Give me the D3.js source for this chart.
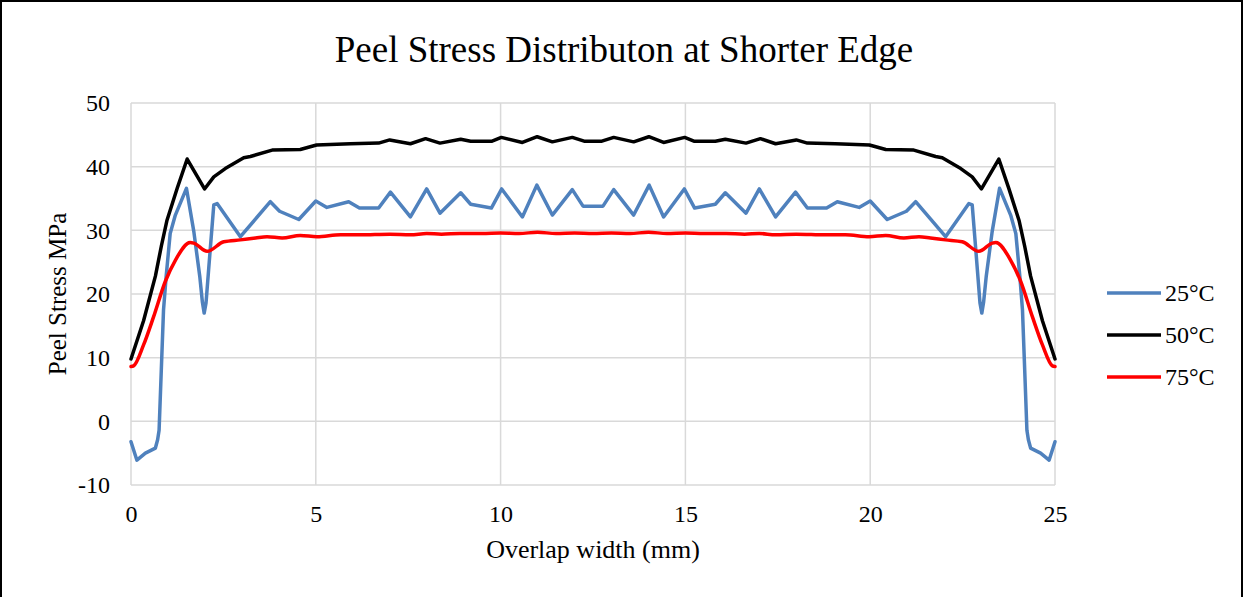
<!DOCTYPE html>
<html>
<head>
<meta charset="utf-8">
<script src="https://cdn.jsdelivr.net/npm/d3@7"></script>
<style>
  body { margin: 0; background: #fff; }
  svg { display: block; font-family: "Liberation Serif", "Times New Roman", serif; }
</style>
</head>
<body>
<div id="chart"></div>
<script>
// peel stress along overlap width
const x25 = [0, 0.16, 0.39, 0.66, 0.72, 0.76, 0.82, 0.88, 0.95, 1.06, 1.2, 1.5, 1.7, 1.86, 1.93, 1.98, 2.03, 2.1, 2.24, 2.33, 2.96, 3.77, 4.02, 4.54, 5.0, 5.3, 5.89, 6.18, 6.7, 7.02, 7.56, 8.0, 8.36, 8.92, 9.19, 9.75, 10.03, 10.59, 10.98, 11.4, 11.94, 12.23,
  12.77, 13.06, 13.6, 14.02, 14.41, 14.97, 15.25, 15.81, 16.08, 16.64, 17.0, 17.44, 17.98, 18.3, 18.82, 19.11, 19.7, 20.0, 20.46, 20.98, 21.23, 22.04, 22.67, 22.76, 22.9, 22.97, 23.02, 23.07, 23.14, 23.3, 23.5, 23.8, 23.94, 24.05, 24.12, 24.18, 24.24, 24.28, 24.34, 24.61, 24.84, 25]
const s25 = [-3.2, -6.1, -5.0, -4.2, -2.9, -1.4, 8.1, 17.5, 22.7, 29.5, 32.4, 36.6, 29.8, 22.8, 18.8, 17.0, 18.6, 23.8, 34.0, 34.2, 29.0, 34.5, 33.0, 31.7, 34.6, 33.6, 34.5, 33.5, 33.5, 36.0, 32.1, 36.5, 32.7, 35.9, 34.1, 33.5, 36.5, 32.1, 37.1, 32.4, 36.4, 33.8,
  33.8, 36.4, 32.4, 37.1, 32.1, 36.5, 33.5, 34.1, 35.9, 32.7, 36.5, 32.1, 36.0, 33.5, 33.5, 34.5, 33.6, 34.6, 31.7, 33.0, 34.5, 29.0, 34.2, 34.0, 23.8, 18.6, 17.0, 18.8, 22.8, 29.8, 36.6, 32.4, 29.5, 22.7, 17.5, 8.1, -1.4, -2.9, -4.2, -5.0, -6.1, -3.2]

const x50 = [0, 0.34, 0.66, 0.82, 0.97, 1.25, 1.52, 1.99, 2.24, 2.55, 3.05, 3.23, 3.82, 4.58, 5.02, 5.94, 6.7, 7.0, 7.56, 7.97, 8.36, 8.92, 9.19, 9.77, 10.02, 10.59, 10.99, 11.4, 11.94, 12.26,
  12.74, 13.06, 13.6, 14.01, 14.41, 14.98, 15.23, 15.81, 16.08, 16.64, 17.03, 17.44, 18.0, 18.3, 19.06, 19.98, 20.42, 21.18, 21.77, 21.95, 22.45, 22.76, 23.01, 23.48, 23.75, 24.03, 24.18, 24.34, 24.66, 25]
const s50 = [9.8, 15.8, 22.8, 27.5, 31.5, 36.6, 41.2, 36.5, 38.4, 39.7, 41.4, 41.6, 42.6, 42.7, 43.4, 43.6, 43.7, 44.2, 43.6, 44.4, 43.7, 44.3, 44.0, 44.0, 44.6, 43.8, 44.7, 43.9, 44.6, 44.0,
  44.0, 44.6, 43.9, 44.7, 43.8, 44.6, 44.0, 44.0, 44.3, 43.7, 44.4, 43.6, 44.2, 43.7, 43.6, 43.4, 42.7, 42.6, 41.6, 41.4, 39.7, 38.4, 36.5, 41.2, 36.6, 31.5, 27.5, 22.8, 15.8, 9.8]

const x75 = [0, 0.07, 0.34, 0.61, 0.93, 1.2, 1.6, 1.7, 2.06, 2.51, 2.96, 3.37, 3.68, 4.09, 4.58, 5.03, 5.67, 6.2, 7.0, 7.56, 8.0, 8.4, 8.9, 9.5, 10.0, 10.5, 11.0, 11.5, 12.0, 12.5,
  13.0, 13.5, 14.0, 14.5, 15.0, 15.5, 16.1, 16.6, 17.0, 17.44, 18.0, 18.8, 19.33, 19.97, 20.42, 20.91, 21.32, 21.63, 22.04, 22.49, 22.94, 23.3, 23.4, 23.8, 24.07, 24.39, 24.66, 24.93, 25]
const s75 = [8.6, 8.7, 12.0, 16.4, 22.0, 25.3, 28.1, 28.0, 26.7, 28.2, 28.5, 28.8, 29.0, 28.8, 29.2, 29.0, 29.3, 29.3, 29.4, 29.3, 29.5, 29.4, 29.5, 29.5, 29.6, 29.5, 29.7, 29.5, 29.6, 29.5,
  29.6, 29.5, 29.7, 29.5, 29.6, 29.5, 29.5, 29.4, 29.5, 29.3, 29.4, 29.3, 29.3, 29.0, 29.2, 28.8, 29.0, 28.8, 28.5, 28.2, 26.7, 28.0, 28.1, 25.3, 22.0, 16.4, 12.0, 8.7, 8.6]

const xTicks = [0, 5, 10, 15, 20, 25]
const yTicks = [-10, 0, 10, 20, 30, 40, 50]
const seriesNames = ["25°C", "50°C", "75°C"]

const W = 1243, H = 597
const margin = {left: 131, right: 188, top: 103, bottom: 112}

const svg = d3.select("#chart").append("svg").attr("width", W).attr("height", H)

// outer frame (bottom edge falls outside the picture)
svg.append("rect")
  .attr("x", 1).attr("y", 1).attr("width", W - 2).attr("height", H + 10)
  .attr("fill", "none").attr("stroke", "#000").attr("stroke-width", 2)

const x = d3.scaleLinear().domain([0, 25]).range([margin.left, W - margin.right])
const y = d3.scaleLinear().domain([-10, 50]).range([H - margin.bottom, margin.top])

svg.append("text")
  .attr("x", 624).attr("y", 62)
  .attr("text-anchor", "middle")
  .attr("font-size", 37)
  .text("Peel Stress Distributon at Shorter Edge")

// grid
svg.append("g").selectAll("line").data(yTicks).join("line")
  .attr("x1", x(0)).attr("x2", x(25))
  .attr("y1", d => y(d)).attr("y2", d => y(d))
  .attr("stroke", "#d9d9d9").attr("stroke-width", 1.5)
svg.append("g").selectAll("line").data(xTicks).join("line")
  .attr("x1", d => x(d)).attr("x2", d => x(d))
  .attr("y1", y(-10)).attr("y2", y(50))
  .attr("stroke", "#d9d9d9").attr("stroke-width", 1.5)

const xAxis = svg.append("g")
  .attr("transform", `translate(0,${y(-10)})`)
  .call(d3.axisBottom(x).tickValues(xTicks).tickSize(0).tickPadding(20).tickFormat(d => String(d)))
xAxis.select(".domain").remove()
xAxis.selectAll("text").attr("font-size", 24).attr("font-family", "Liberation Serif").attr("fill", "#000")

const yAxis = svg.append("g")
  .attr("transform", `translate(${x(0)},0)`)
  .call(d3.axisLeft(y).tickValues(yTicks).tickSize(0).tickPadding(21).tickFormat(d => String(d)))
yAxis.select(".domain").remove()
yAxis.selectAll("text").attr("font-size", 24).attr("font-family", "Liberation Serif").attr("fill", "#000")

svg.append("text")
  .attr("x", 593).attr("y", 558)
  .attr("text-anchor", "middle").attr("font-size", 26)
  .text("Overlap width (mm)")

svg.append("text")
  .attr("transform", `translate(66,${y(20)}) rotate(-90)`)
  .attr("text-anchor", "middle").attr("font-size", 25)
  .text("Peel Stress MPa")

const series = [
  {name: seriesNames[0], xs: x25, ys: s25, color: "#4f81bd", curve: d3.curveLinear},
  {name: seriesNames[1], xs: x50, ys: s50, color: "#000000", curve: d3.curveLinear},
  {name: seriesNames[2], xs: x75, ys: s75, color: "#ff0000", curve: d3.curveMonotoneX}
]

const line = d3.line().x(d => x(d[0])).y(d => y(d[1]))

series.forEach(s => {
  svg.append("path")
    .datum(d3.zip(s.xs, s.ys))
    .attr("fill", "none")
    .attr("stroke", s.color)
    .attr("stroke-width", 3.5)
    .attr("stroke-linejoin", "round")
    .attr("stroke-linecap", "round")
    .attr("d", line.curve(s.curve))
})

// legend
const leg = svg.append("g").selectAll("g").data(series).join("g")
  .attr("transform", (d, i) => `translate(1107,${293 + i * 42})`)
leg.append("line").attr("x1", 0).attr("x2", 54)
  .attr("stroke", d => d.color).attr("stroke-width", 3.5)
leg.append("text").attr("x", 58).attr("y", 8).attr("font-size", 24)
  .text(d => d.name)
</script>
</body>
</html>
